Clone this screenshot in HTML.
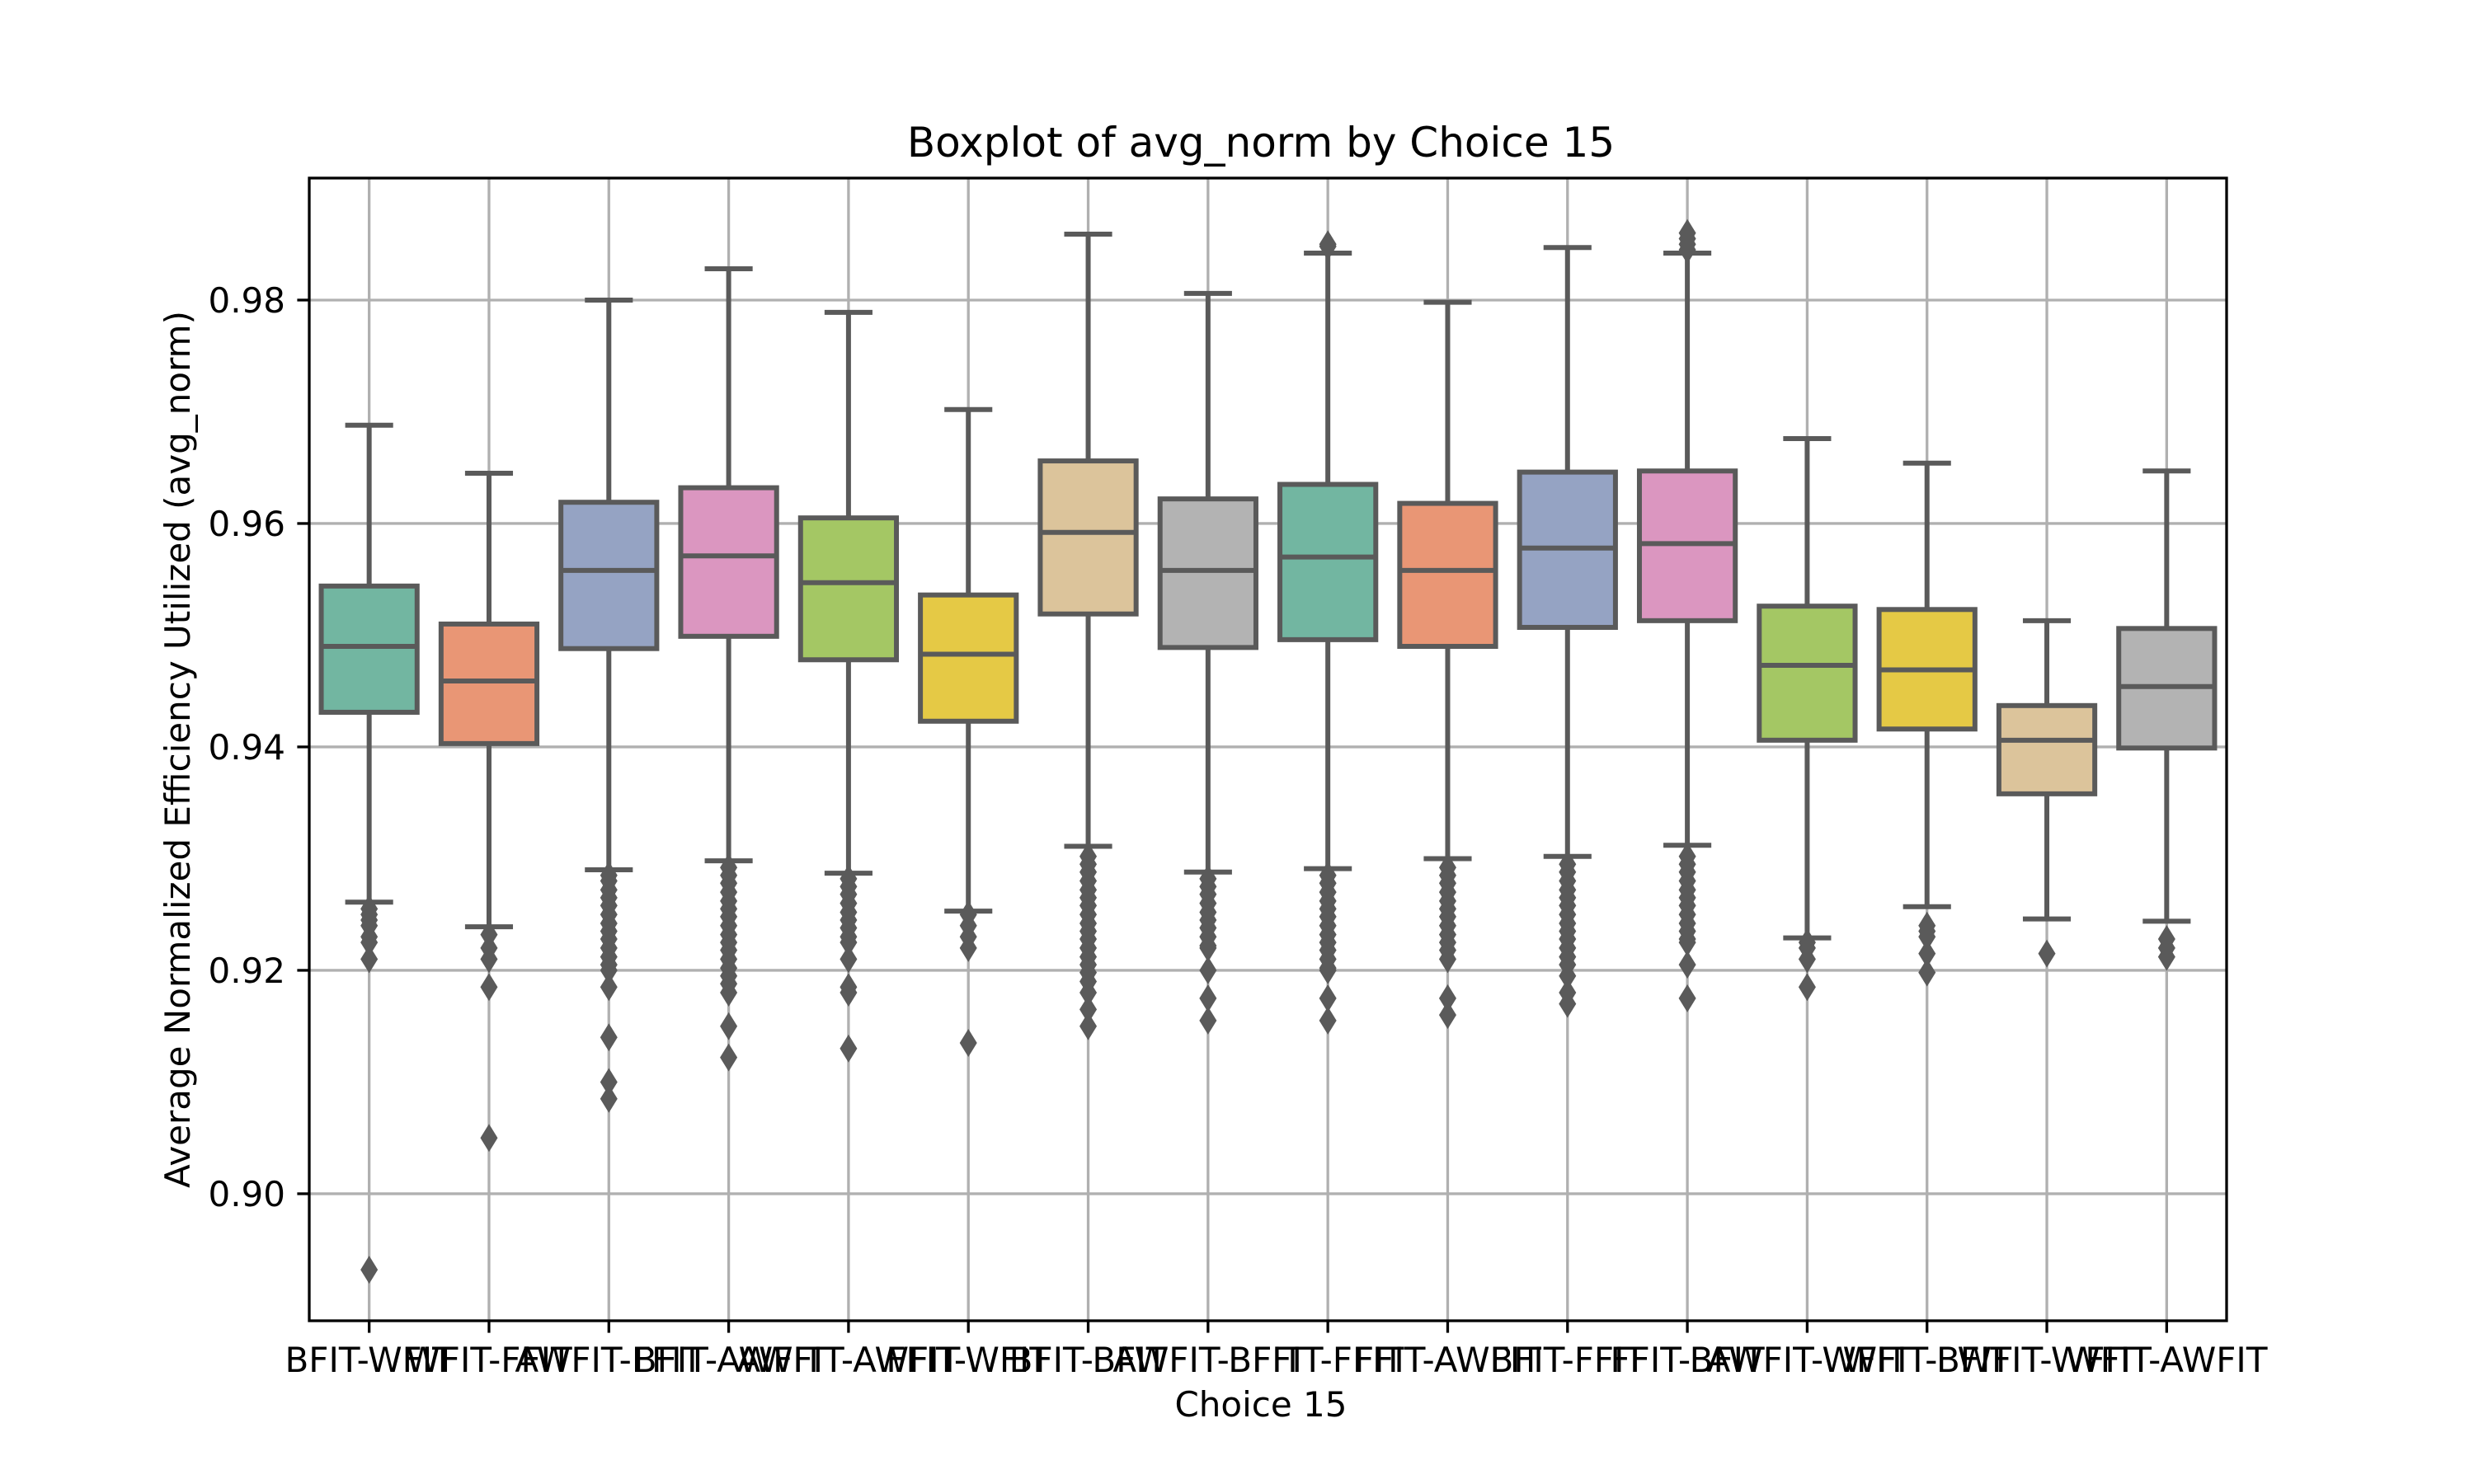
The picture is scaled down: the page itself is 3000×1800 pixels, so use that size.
<!DOCTYPE html>
<html><head><meta charset="utf-8">
<style>
html,body{margin:0;padding:0;background:#fff;}
svg{display:block;font-family:"DejaVu Sans","Liberation Sans",sans-serif;}
</style></head>
<body>
<svg id="chart" width="3000" height="1800" viewBox="0 0 3000 1800" xmlns="http://www.w3.org/2000/svg">
<rect x="0" y="0" width="3000" height="1800" fill="#fff"/>
<g id="grid"></g>
<g id="boxes"></g>
<g id="axes"></g>
<text x="1529" y="190" font-size="50" text-anchor="middle">Boxplot of avg_norm by Choice 15</text>
<text x="1529" y="1718" font-size="42" text-anchor="middle">Choice 15</text>
<text transform="translate(230,909) rotate(-90)" font-size="42" text-anchor="middle">Average Normalized Efficiency Utilized (avg_norm)</text>
</svg>
<script>
const categories = ["BFIT-WFIT","WFIT-FFIT","AWFIT-FFIT","BFIT-AWFIT","AWFIT-AWFIT","FFIT-WFIT","BFIT-BFIT","AWFIT-BFIT","FFIT-FFIT","FFIT-AWFIT","BFIT-FFIT","FFIT-BFIT","AWFIT-WFIT","WFIT-BFIT","WFIT-WFIT","WFIT-AWFIT"];
const whiskerHigh = [0.9688,0.9645,0.9800,0.9828,0.9789,0.9702,0.9859,0.9806,0.9842,0.9798,0.9847,0.9842,0.9676,0.9654,0.9513,0.9647];
const q3 = [0.9544,0.9510,0.9619,0.9632,0.9605,0.9536,0.9656,0.9622,0.9635,0.9618,0.9646,0.9647,0.9526,0.9523,0.9437,0.9506];
const medians = [0.9490,0.9459,0.9558,0.9571,0.9547,0.9483,0.9592,0.9558,0.9570,0.9558,0.9578,0.9582,0.9473,0.9469,0.9406,0.9454];
const q1 = [0.9431,0.9403,0.9488,0.9499,0.9478,0.9423,0.9519,0.9489,0.9496,0.9490,0.9507,0.9513,0.9406,0.9416,0.9358,0.9399];
const whiskerLow = [0.9261,0.9239,0.9290,0.9298,0.9287,0.9253,0.9311,0.9288,0.9291,0.9300,0.9302,0.9312,0.9229,0.9257,0.9246,0.9244];
const outliers = [
 [0.9255,0.925,0.9245,0.924,0.923,0.9225,0.921,0.8932],
 [0.9232,0.922,0.921,0.9185,0.905],
 [0.9285,0.928,0.9272,0.9265,0.9258,0.925,0.9242,0.9235,0.9228,0.922,0.9212,0.9205,0.92,0.9185,0.914,0.910,0.9085],
 [0.9292,0.9285,0.9278,0.927,0.9262,0.9255,0.9248,0.924,0.9232,0.9225,0.9218,0.921,0.9202,0.9195,0.9188,0.918,0.915,0.9122],
 [0.9282,0.9275,0.9268,0.926,0.9252,0.9245,0.9238,0.923,0.9225,0.921,0.9185,0.918,0.913],
 [0.925,0.924,0.923,0.922,0.9135],
 [0.9302,0.9295,0.9288,0.928,0.9272,0.9265,0.9258,0.925,0.9242,0.9235,0.9228,0.922,0.9212,0.9205,0.9198,0.919,0.918,0.9165,0.915],
 [0.9282,0.9275,0.9268,0.926,0.9252,0.9245,0.9238,0.923,0.9222,0.922,0.920,0.9175,0.9155],
 [0.9285,0.9278,0.927,0.9262,0.9255,0.9248,0.924,0.9232,0.9225,0.9218,0.921,0.9202,0.92,0.9175,0.9155,0.9848,0.985],
 [0.9292,0.9285,0.9278,0.927,0.9262,0.9255,0.9248,0.924,0.9232,0.9225,0.9218,0.921,0.9175,0.916],
 [0.9295,0.9288,0.928,0.9272,0.9265,0.9258,0.925,0.9242,0.9235,0.9228,0.922,0.9212,0.9205,0.9195,0.918,0.917],
 [0.9302,0.9295,0.9288,0.928,0.9272,0.9265,0.9258,0.925,0.9242,0.9235,0.9228,0.9225,0.9205,0.9175,0.9845,0.985,0.9855,0.986],
 [0.9225,0.922,0.921,0.9185],
 [0.924,0.9235,0.923,0.9215,0.9198],
 [0.9215],
 [0.9228,0.922,0.9212]
];
const yTicks = [0.90,0.92,0.94,0.96,0.98];
const yTickLabels = ["0.90","0.92","0.94","0.96","0.98"];
const colors = ["#72b6a1","#e99675","#95a3c3","#db96c0","#a4c764","#e5c945","#dcc49b","#b3b3b3","#72b6a1","#e99675","#95a3c3","#db96c0","#a4c764","#e5c945","#dcc49b","#b3b3b3"];

const NS = "http://www.w3.org/2000/svg";
const L = 375, R = 2700, T = 216, B = 1602;
const yMin = 0.88863, yMax = 0.99092;
const n = categories.length;
const step = (R - L) / n;
function xPos(i){ return L + step * (i + 0.5); }
function yPos(v){ return B - (v - yMin) / (yMax - yMin) * (B - T); }
function mk(tag, attrs, parent){
  const e = document.createElementNS(NS, tag);
  for (const k in attrs) e.setAttribute(k, attrs[k]);
  parent.appendChild(e);
  return e;
}
const grid = document.getElementById('grid');
const boxesG = document.getElementById('boxes');
const axes = document.getElementById('axes');
const EDGE = "#5a5a5a";

yTicks.forEach((v, i) => {
  const y = yPos(v);
  const gl = mk('line', {x1:L, x2:R, y1:y, y2:y, stroke:'#b0b0b0', 'stroke-width':3.3}, grid);
  
  
  const tk = mk('line', {x1:L-14.6, x2:L, y1:y, y2:y, stroke:'#000', 'stroke-width':3.3}, axes);
  
  
  const t = mk('text', {x:L-29, y:y+15, 'font-size':42, 'text-anchor':'end'}, axes);
  t.textContent = yTickLabels[i];
  
  
});

categories.forEach((c, i) => {
  const x = xPos(i);
  const gl = mk('line', {x1:x, x2:x, y1:T, y2:B, stroke:'#b0b0b0', 'stroke-width':3.3}, grid);
  
  
  const tk = mk('line', {x1:x, x2:x, y1:B, y2:B+14.6, stroke:'#000', 'stroke-width':3.3}, axes);
  
  
  const t = mk('text', {x:x, y:B+62, 'font-size':42, 'text-anchor':'middle'}, axes);
  t.textContent = c;
  
  

  const g = mk('g', {}, boxesG);
  
  
  const w = step * 0.8;
  const capW = w * 0.5;
  mk('line', {x1:x, x2:x, y1:yPos(whiskerHigh[i]), y2:yPos(q3[i]), stroke:EDGE, 'stroke-width':6}, g);
  mk('line', {x1:x, x2:x, y1:yPos(q1[i]), y2:yPos(whiskerLow[i]), stroke:EDGE, 'stroke-width':6}, g);
  mk('line', {x1:x-capW/2, x2:x+capW/2, y1:yPos(whiskerHigh[i]), y2:yPos(whiskerHigh[i]), stroke:EDGE, 'stroke-width':6}, g);
  mk('line', {x1:x-capW/2, x2:x+capW/2, y1:yPos(whiskerLow[i]), y2:yPos(whiskerLow[i]), stroke:EDGE, 'stroke-width':6}, g);
  const bx = mk('rect', {x:x-w/2, y:yPos(q3[i]), width:w, height:yPos(q1[i])-yPos(q3[i]), fill:colors[i], stroke:EDGE, 'stroke-width':6}, g);
  
  
  const md = mk('line', {x1:x-w/2, x2:x+w/2, y1:yPos(medians[i]), y2:yPos(medians[i]), stroke:EDGE, 'stroke-width':6}, g);
  
  
  outliers[i].forEach(v => {
    const y = yPos(v);
    const p = mk('path', {d:`M${x} ${y-17} L${x+10.5} ${y} L${x} ${y+17} L${x-10.5} ${y} Z`, fill:EDGE}, g);
    
    
  });
});

const frame = mk('rect', {x:L, y:T, width:R-L, height:B-T, fill:'none', stroke:'#000', 'stroke-width':3.3}, axes);


</script>
</body></html>
